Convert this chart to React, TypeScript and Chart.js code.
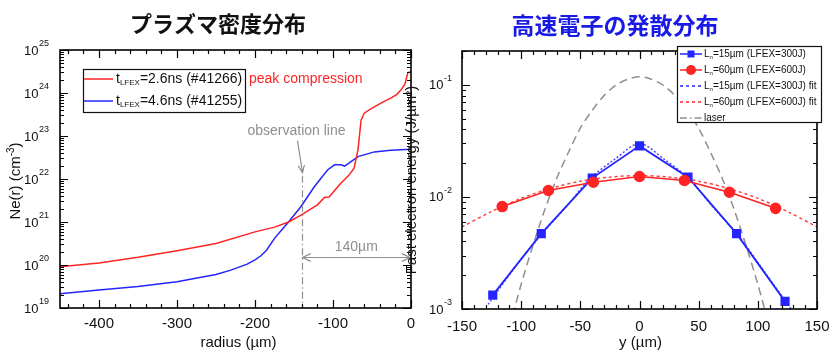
import React, { useEffect, useRef } from 'react';
import { Chart, registerables } from 'chart.js';

Chart.register(...registerables);

const FONT = '"Liberation Sans", Arial, sans-serif';
const CJK = '"Noto Sans CJK JP", "Noto Sans CJK SC", sans-serif';

const leftTitle = 'プラズマ密度分布';
const radiusRed = [-450, -400, -350, -300, -250, -200, -175, -157, -141, -120, -111, -105, -90, -80, -73, -68, -64, -60, -50, -43, -35, -26, -18, -13, -8, -4, 0];
const neRed = [9.1e19, 1.12e20, 1.51e20, 2.14e20, 3.16e20, 5.89e20, 7.59e20, 1.0e21, 1.45e21, 2.51e21, 3.72e21, 3.8e21, 7.94e21, 1.2e22, 1.78e22, 4.68e22, 2.34e23, 3.39e23, 4.47e23, 5.25e23, 6.31e23, 7.59e23, 9.33e23, 1.17e24, 1.58e24, 2.95e24, 3.16e24];
const radiusBlue = [-450, -400, -350, -300, -250, -231, -210, -200, -192, -185, -175, -165, -157, -141, -124, -107, -98, -90, -85, -68, -47, -26, 0];
const neBlue = [2.14e19, 2.63e19, 3.16e19, 4.07e19, 6.03e19, 7.59e19, 1.05e20, 1.32e20, 1.66e20, 2.24e20, 4.17e20, 6.76e20, 1.0e21, 2.29e21, 6.61e21, 1.62e22, 2.14e22, 2.14e22, 2.0e22, 3.31e22, 4.27e22, 4.68e22, 4.9e22];
const leftXTickLabels = [-400, -300, -200, -100, 0];
const leftYExponents = [19, 20, 21, 22, 23, 24, 25];
const redLegend = ['t', 'LFEX', '=2.6ns (#41266)'];
const blueLegend = ['t', 'LFEX', '=4.6ns (#41255)'];
const peakLabel = 'peak compression';
const observationR = -140;
const observationTop = 1.4e22;
const spanY = 1.55e20;
const spanLabel = '140µm';

const rightTitle = '高速電子の発散分布';
const yPos15 = [-124, -83, -40, 0, 41, 82, 123];
const energy15 = [1.33e-3, 4.7e-3, 1.47e-2, 2.85e-2, 1.5e-2, 4.7e-3, 1.17e-3];
const yPos60 = [-116, -77, -39, 0, 38, 76, 115];
const energy60 = [8.2e-3, 1.14e-2, 1.35e-2, 1.52e-2, 1.4e-2, 1.1e-2, 7.9e-3];
const fitPos15 = [-128, -100, -83, -60, -42, -20, 0, 20, 42, 60, 83, 100, 128];
const fit15 = [1.1e-3, 2.8e-3, 4.6e-3, 8.6e-3, 1.45e-2, 2.2e-2, 3.0e-2, 2.2e-2, 1.45e-2, 8.6e-3, 4.6e-3, 2.6e-3, 1.0e-3];
const fitPos60 = [-150, -125, -100, -75, -50, -25, 0, 25, 50, 75, 100, 125, 150];
const fit60 = [5.4e-3, 7.4e-3, 9.7e-3, 1.19e-2, 1.38e-2, 1.5e-2, 1.55e-2, 1.5e-2, 1.38e-2, 1.19e-2, 9.7e-3, 7.4e-3, 5.4e-3];
const laserPos = [-110, -100, -90, -80, -70, -60, -50, -40, -30, -20, -10, 0, 10, 20, 30, 40, 50, 60, 70, 80, 90, 100, 110];
const laser = [6.8e-4, 1.66e-3, 3.7e-3, 7.7e-3, 1.46e-2, 2.5e-2, 4.1e-2, 5.9e-2, 8.0e-2, 9.9e-2, 0.112, 0.118, 0.112, 9.9e-2, 8.0e-2, 5.9e-2, 4.1e-2, 2.5e-2, 1.46e-2, 7.7e-3, 3.7e-3, 1.66e-3, 6.8e-4];
const rightXTickLabels = [-150, -100, -50, 0, 50, 100, 150];
const rightYExponents = [-3, -2, -1];
const rightLegend = [
  { pre: 'L', sub: 'n', post: '=15µm (LFEX=300J)' },
  { pre: 'L', sub: 'n', post: '=60µm (LFEX=600J)' },
  { pre: 'L', sub: 'n', post: '=15µm (LFEX=300J) fit' },
  { pre: 'L', sub: 'n', post: '=60µm (LFEX=600J) fit' },
  { pre: 'laser', sub: '', post: '' },
];

const RED = '#ff2424';
const BLUE = '#2424ff';
const GRAY = '#8f8f8f';

const pts = (xs: number[], ys: number[]) => xs.map((x, i) => ({ x, y: ys[i] }));

function stepList(a: number, b: number, step: number): number[] {
  const out: number[] = [];
  const n = Math.round((b - a) / step);
  for (let i = 0; i <= n; i++) out.push(a + i * step);
  return out;
}

function logList(minExp: number, maxExp: number, maxVal: number, major: boolean): number[] {
  const out: number[] = [];
  for (let e = minExp; e <= maxExp; e++) {
    for (let k = 1; k <= 9; k++) {
      const v = k * Math.pow(10, e);
      if (v > maxVal * 1.0001) continue;
      if ((k === 1) === major) out.push(v);
    }
  }
  return out;
}

const leftMajorX = stepList(-400, 0, 100);
const leftMinorX = stepList(-440, 0, 20);
const leftMajorY = logList(19, 25, 1e25, true);
const leftMinorY = logList(19, 24, 1e25, false);
const rightMajorX = stepList(-150, 150, 50);
const rightMinorX = stepList(-150, 150, 10);
const rightMajorY = logList(-3, -1, 0.2, true);
const rightMinorY = logList(-3, -1, 0.2, false);

function drawBox(chart: any, xMajor: number[], xMinor: number[], yMajor: number[], yMinor: number[]) {
  const ctx: CanvasRenderingContext2D = chart.ctx;
  const area = chart.chartArea;
  const L = area.left, R = area.right, T = area.top, B = area.bottom;
  const xs = chart.scales.x;
  const ys = chart.scales.y;
  ctx.save();
  ctx.setLineDash([]);
  ctx.strokeStyle = '#000';
  ctx.lineWidth = 1.2;
  ctx.beginPath();
  for (let i = 0; i < xMinor.length; i++) {
    const p = Math.round(xs.getPixelForValue(xMinor[i])) + 0.5;
    ctx.moveTo(p, B); ctx.lineTo(p, B - 4);
    ctx.moveTo(p, T); ctx.lineTo(p, T + 4);
  }
  for (let i = 0; i < xMajor.length; i++) {
    const p = Math.round(xs.getPixelForValue(xMajor[i])) + 0.5;
    ctx.moveTo(p, B); ctx.lineTo(p, B - 8);
    ctx.moveTo(p, T); ctx.lineTo(p, T + 8);
  }
  for (let i = 0; i < yMinor.length; i++) {
    const p = Math.round(ys.getPixelForValue(yMinor[i])) + 0.5;
    ctx.moveTo(L, p); ctx.lineTo(L + 4, p);
    ctx.moveTo(R, p); ctx.lineTo(R - 4, p);
  }
  for (let i = 0; i < yMajor.length; i++) {
    const p = Math.round(ys.getPixelForValue(yMajor[i])) + 0.5;
    ctx.moveTo(L, p); ctx.lineTo(L + 8, p);
    ctx.moveTo(R, p); ctx.lineTo(R - 8, p);
  }
  ctx.stroke();
  ctx.lineWidth = 1.6;
  ctx.strokeRect(L, T, R - L, B - T);
  ctx.restore();
}

function drawPowLabels(chart: any, exps: number[], xRight: number) {
  const ctx: CanvasRenderingContext2D = chart.ctx;
  const ys = chart.scales.y;
  ctx.save();
  ctx.fillStyle = '#111';
  exps.forEach((e) => {
    const y = ys.getPixelForValue(Math.pow(10, e));
    ctx.font = `9px ${FONT}`;
    const sup = String(e);
    const sw = ctx.measureText(sup).width;
    ctx.textAlign = 'left';
    ctx.textBaseline = 'middle';
    ctx.fillText(sup, xRight - sw, y - 6);
    ctx.font = `13px ${FONT}`;
    ctx.textAlign = 'right';
    ctx.fillText('10', xRight - sw - 0.5, y + 1);
  });
  ctx.restore();
}

function drawXLabels(chart: any, vals: number[], y: number, size: number) {
  const ctx: CanvasRenderingContext2D = chart.ctx;
  const xs = chart.scales.x;
  ctx.save();
  ctx.fillStyle = '#111';
  ctx.font = `${size}px ${FONT}`;
  ctx.textAlign = 'center';
  ctx.textBaseline = 'middle';
  vals.forEach((v) => ctx.fillText(String(v), xs.getPixelForValue(v), y));
  ctx.restore();
}

function drawSubText(ctx: CanvasRenderingContext2D, x: number, y: number, pre: string, sub: string, post: string, size: number, subSize: number) {
  ctx.textAlign = 'left';
  ctx.textBaseline = 'middle';
  ctx.font = `${size}px ${FONT}`;
  ctx.fillText(pre, x, y);
  x += ctx.measureText(pre).width;
  if (sub) {
    ctx.font = `${subSize}px ${FONT}`;
    ctx.fillText(sub, x, y + size * 0.3);
    x += ctx.measureText(sub).width;
  }
  ctx.font = `${size}px ${FONT}`;
  ctx.fillText(post, x, y);
  return x + ctx.measureText(post).width;
}

function arrowHead(ctx: CanvasRenderingContext2D, tx: number, ty: number, fx: number, fy: number, len: number, spread: number) {
  const a = Math.atan2(ty - fy, tx - fx);
  ctx.moveTo(tx - len * Math.cos(a - spread), ty - len * Math.sin(a - spread));
  ctx.lineTo(tx, ty);
  ctx.lineTo(tx - len * Math.cos(a + spread), ty - len * Math.sin(a + spread));
}

const leftPlugin = {
  id: 'leftDecor',
  afterDraw(chart: any) {
    const ctx: CanvasRenderingContext2D = chart.ctx;
    const { left, right, top, bottom } = chart.chartArea;
    const xs = chart.scales.x;
    const ys = chart.scales.y;

    const ox = Math.round(xs.getPixelForValue(observationR)) + 0.5;
    const oyTop = ys.getPixelForValue(observationTop);
    ctx.save();
    ctx.strokeStyle = GRAY;
    ctx.lineWidth = 1.2;
    ctx.setLineDash([7, 3, 1.5, 3]);
    ctx.beginPath();
    ctx.moveTo(ox, oyTop + 3);
    ctx.lineTo(ox, bottom);
    ctx.stroke();
    ctx.setLineDash([]);
    ctx.beginPath();
    ctx.moveTo(ox - 5, oyTop - 32);
    ctx.lineTo(ox, oyTop);
    arrowHead(ctx, ox, oyTop, ox - 5, oyTop - 32, 8, 0.4);
    ctx.stroke();
    ctx.fillStyle = GRAY;
    ctx.font = `14px ${FONT}`;
    ctx.textAlign = 'center';
    ctx.textBaseline = 'middle';
    ctx.fillText('observation line', ox - 6, oyTop - 42);

    const sy = Math.round(ys.getPixelForValue(spanY)) + 0.5;
    const sx0 = ox;
    const sx1 = xs.getPixelForValue(0) - 1;
    ctx.beginPath();
    ctx.moveTo(sx0, sy);
    ctx.lineTo(sx1, sy);
    arrowHead(ctx, sx0, sy, sx1, sy, 9, 0.45);
    arrowHead(ctx, sx1, sy, sx0, sy, 9, 0.45);
    ctx.stroke();
    ctx.fillText(spanLabel, (sx0 + sx1) / 2, sy - 10);
    ctx.restore();

    drawBox(chart, leftMajorX, leftMinorX, leftMajorY, leftMinorY);
    drawPowLabels(chart, leftYExponents, left - 11);
    drawXLabels(chart, leftXTickLabels, bottom + 16, 15);

    ctx.save();
    const lx = 83, ly = 69, lw = 162, lh = 43;
    ctx.fillStyle = '#fff';
    ctx.fillRect(lx, ly, lw, lh);
    ctx.strokeStyle = '#111';
    ctx.lineWidth = 1.2;
    ctx.strokeRect(lx + 0.5, ly + 0.5, lw, lh);
    const rows = [
      { c: RED, y: ly + 10, t: redLegend },
      { c: BLUE, y: ly + 32, t: blueLegend },
    ];
    rows.forEach((r) => {
      ctx.strokeStyle = r.c;
      ctx.lineWidth = 1.5;
      ctx.beginPath();
      ctx.moveTo(lx + 1, r.y);
      ctx.lineTo(lx + 30, r.y);
      ctx.stroke();
      ctx.fillStyle = '#111';
      drawSubText(ctx, lx + 33, r.y, r.t[0], r.t[1], r.t[2], 14, 8);
    });
    ctx.fillStyle = RED;
    ctx.font = `14px ${FONT}`;
    ctx.textAlign = 'left';
    ctx.textBaseline = 'middle';
    ctx.fillText(peakLabel, 249, ly + 10);

    ctx.fillStyle = '#111';
    ctx.font = `15px ${FONT}`;
    ctx.textAlign = 'center';
    ctx.fillText('radius (µm)', (left + right) / 2 + 3, 343);
    ctx.save();
    ctx.translate(16, (top + bottom) / 2 + 2);
    ctx.rotate(-Math.PI / 2);
    ctx.font = `15px ${FONT}`;
    const t1 = 'Ne(r) (cm';
    const w1 = ctx.measureText(t1).width;
    ctx.font = `10px ${FONT}`;
    const w2 = ctx.measureText('-3').width;
    ctx.font = `15px ${FONT}`;
    const w3 = ctx.measureText(')').width;
    let x0 = -(w1 + w2 + w3) / 2;
    ctx.textAlign = 'left';
    ctx.fillText(t1, x0, 0);
    x0 += w1;
    ctx.font = `10px ${FONT}`;
    ctx.fillText('-3', x0, -5);
    x0 += w2;
    ctx.font = `15px ${FONT}`;
    ctx.fillText(')', x0, 0);
    ctx.restore();

    ctx.font = `bold 22px ${CJK}`;
    ctx.textAlign = 'center';
    ctx.fillStyle = '#111';
    ctx.fillText(leftTitle, 218, 24);
    ctx.restore();
  },
};

const rightPlugin = {
  id: 'rightDecor',
  afterDraw(chart: any) {
    const ctx: CanvasRenderingContext2D = chart.ctx;
    const { left, right, top, bottom } = chart.chartArea;
    drawBox(chart, rightMajorX, rightMinorX, rightMajorY, rightMinorY);
    drawPowLabels(chart, rightYExponents, left - 10);
    drawXLabels(chart, rightXTickLabels, bottom + 18, 15);

    ctx.save();
    const lx = 277, ly = 46, lw = 144, lh = 76;
    ctx.fillStyle = '#fff';
    ctx.fillRect(lx, ly, lw, lh);
    ctx.strokeStyle = '#111';
    ctx.lineWidth = 1.2;
    ctx.strokeRect(lx + 0.5, ly + 0.5, lw, lh);
    const styles = [
      { c: BLUE, dash: [] as number[], m: 'rect' },
      { c: RED, dash: [] as number[], m: 'circle' },
      { c: BLUE, dash: [3, 3], m: '' },
      { c: RED, dash: [3, 3], m: '' },
      { c: GRAY, dash: [7, 3, 1.5, 3], m: '' },
    ];
    rightLegend.forEach((e, i) => {
      const y = ly + 8 + i * 16;
      const s = styles[i];
      ctx.strokeStyle = s.c;
      ctx.lineWidth = 1.5;
      ctx.setLineDash(s.dash);
      ctx.beginPath();
      ctx.moveTo(lx + 3, y);
      ctx.lineTo(lx + 25, y);
      ctx.stroke();
      ctx.setLineDash([]);
      ctx.fillStyle = s.c;
      if (s.m === 'rect') ctx.fillRect(lx + 14 - 3.5, y - 3.5, 7, 7);
      if (s.m === 'circle') {
        ctx.beginPath();
        ctx.arc(lx + 14, y, 5, 0, Math.PI * 2);
        ctx.fill();
      }
      ctx.fillStyle = '#111';
      drawSubText(ctx, lx + 27, y, e.pre, e.sub, e.post, 10, 6);
    });

    ctx.fillStyle = '#111';
    ctx.font = `15px ${FONT}`;
    ctx.textAlign = 'center';
    ctx.textBaseline = 'middle';
    ctx.fillText('y (µm)', (left + right) / 2 + 1, 343);
    ctx.save();
    ctx.translate(12, (top + bottom) / 2);
    ctx.rotate(-Math.PI / 2);
    ctx.fillText('Fast electron energy (J/µm²)', 0, 0);
    ctx.restore();

    ctx.font = `bold 23px ${CJK}`;
    ctx.fillStyle = '#1a1ae6';
    ctx.textAlign = 'center';
    ctx.fillText(rightTitle, 215, 25);
    ctx.restore();
  },
};

export default function App() {
  const leftRef = useRef<HTMLCanvasElement>(null);
  const rightRef = useRef<HTMLCanvasElement>(null);

  useEffect(() => {
    const c1 = new Chart(leftRef.current as HTMLCanvasElement, {
      type: 'line',
      data: {
        datasets: [
          { label: 't=2.6ns', data: pts(radiusRed, neRed), borderColor: RED, borderWidth: 1.5, pointRadius: 0, tension: 0 },
          { label: 't=4.6ns', data: pts(radiusBlue, neBlue), borderColor: BLUE, borderWidth: 1.5, pointRadius: 0, tension: 0 },
        ],
      },
      options: {
        responsive: false,
        animation: false,
        devicePixelRatio: 1,
        layout: { padding: { left: 60, right: 9, top: 50, bottom: 45 } },
        plugins: { legend: { display: false }, tooltip: { enabled: false }, title: { display: false } },
        scales: {
          x: { type: 'linear', min: -450, max: 0, display: false },
          y: { type: 'logarithmic', min: 1e19, max: 1e25, display: false },
        },
      },
      plugins: [leftPlugin],
    } as any);

    const c2 = new Chart(rightRef.current as HTMLCanvasElement, {
      type: 'line',
      data: {
        datasets: [
          { label: 'Ln=60um', data: pts(yPos60, energy60), borderColor: RED, backgroundColor: RED, borderWidth: 1.6, pointStyle: 'circle', pointRadius: 5, pointBackgroundColor: RED, pointBorderColor: RED, tension: 0 },
          { label: 'Ln=15um', data: pts(yPos15, energy15), borderColor: BLUE, backgroundColor: BLUE, borderWidth: 1.8, pointStyle: 'rect', pointRadius: 5.2, pointBackgroundColor: BLUE, pointBorderColor: BLUE, tension: 0 },
          { label: 'Ln=15um fit', data: pts(fitPos15, fit15), borderColor: '#4a4aff', borderWidth: 1.5, borderDash: [2, 2], pointRadius: 0, tension: 0.3 },
          { label: 'Ln=60um fit', data: pts(fitPos60, fit60), borderColor: '#ff4040', borderWidth: 1.5, borderDash: [3, 3], pointRadius: 0, tension: 0.3 },
          { label: 'laser', data: pts(laserPos, laser), borderColor: GRAY, borderWidth: 1.5, borderDash: [8, 5], pointRadius: 0, tension: 0.3 },
        ],
      },
      options: {
        responsive: false,
        animation: false,
        devicePixelRatio: 1,
        layout: { padding: { left: 62, right: 14, top: 51, bottom: 44 } },
        plugins: { legend: { display: false }, tooltip: { enabled: false }, title: { display: false } },
        scales: {
          x: { type: 'linear', min: -150, max: 150, display: false },
          y: { type: 'logarithmic', min: 1e-3, max: 0.2, display: false },
        },
      },
      plugins: [rightPlugin],
    } as any);

    return () => {
      c1.destroy();
      c2.destroy();
    };
  }, []);

  return (
    <div style={{ position: 'fixed', left: 0, top: 0, width: 831, height: 353, background: '#fff', overflow: 'hidden' }}>
      <canvas ref={leftRef} width={420} height={353} style={{ position: 'absolute', left: 0, top: 0, width: 420, height: 353 }} />
      <canvas ref={rightRef} width={431} height={353} style={{ position: 'absolute', left: 400, top: 0, width: 431, height: 353 }} />
    </div>
  );
}
